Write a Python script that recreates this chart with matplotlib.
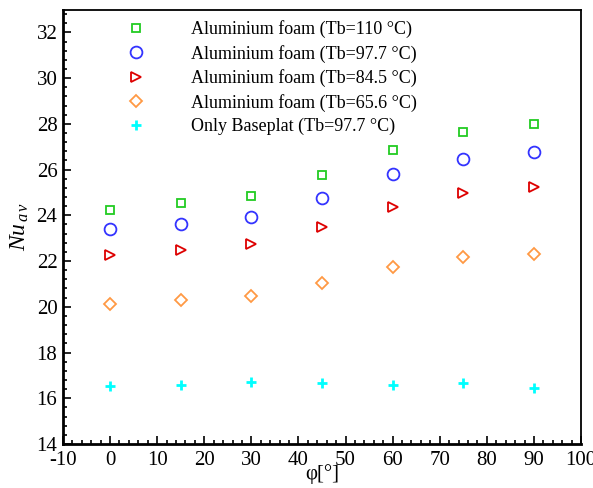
import matplotlib
matplotlib.use("Agg")
import matplotlib.pyplot as plt
from matplotlib.ticker import MultipleLocator

plt.rcParams['font.family'] = ['Liberation Serif', 'DejaVu Serif']
plt.rcParams['mathtext.fontset'] = 'custom'
plt.rcParams['mathtext.rm'] = 'Liberation Serif'
plt.rcParams['mathtext.it'] = 'Liberation Serif:italic'
plt.rcParams['axes.unicode_minus'] = False

# Inclination angle (degrees)
angle = [0, 15, 30, 45, 60, 75, 90]

# Average Nusselt number for each configuration
nu_foam_110 = [24.24, 24.53, 24.83, 25.76, 26.85, 27.65, 27.98]
nu_foam_977 = [23.38, 23.63, 23.91, 24.74, 25.79, 26.47, 26.76]
nu_foam_845 = [22.26, 22.50, 22.74, 23.47, 24.37, 24.98, 25.22]
nu_foam_656 = [20.11, 20.28, 20.46, 21.02, 21.73, 22.17, 22.32]
nu_baseplate = [16.53, 16.60, 16.70, 16.66, 16.57, 16.67, 16.45]

labels = [
    "Aluminium foam (Tb=110 °C)",
    "Aluminium foam (Tb=97.7 °C)",
    "Aluminium foam (Tb=84.5 °C)",
    "Aluminium foam (Tb=65.6 °C)",
    "Only Baseplat (Tb=97.7 °C)",
]

fig = plt.figure(figsize=(5.93, 4.88), dpi=100)
ax = fig.add_axes([0.1062, 0.0902, 0.8736, 0.8903])

ax.plot(angle, nu_foam_110, linestyle='none', marker='s', markersize=6,
        markerfacecolor='none', markeredgecolor='#22cc22', markeredgewidth=1.3,
        label=labels[0])
ax.plot(angle, nu_foam_977, linestyle='none', marker='o', markersize=8.5,
        markerfacecolor='none', markeredgecolor='#3333ff', markeredgewidth=1.3,
        label=labels[1])
ax.plot(angle, nu_foam_845, linestyle='none', marker='>', markersize=7,
        markerfacecolor='none', markeredgecolor='#dd0000', markeredgewidth=1.3,
        label=labels[2])
ax.plot(angle, nu_foam_656, linestyle='none', marker='D', markersize=6.5,
        markerfacecolor='none', markeredgecolor='#ff9944', markeredgewidth=1.3,
        label=labels[3])
ax.plot(angle, nu_baseplate, linestyle='none', marker='+', markersize=7,
        markeredgecolor='#00ffff', markeredgewidth=2.0,
        label=labels[4])

ax.set_xlim(-10, 100)
ax.set_ylim(14, 33)
ax.xaxis.set_major_locator(MultipleLocator(10))
ax.xaxis.set_minor_locator(MultipleLocator(2))
ax.yaxis.set_major_locator(MultipleLocator(2))
ax.yaxis.set_minor_locator(MultipleLocator(0.4))

ax.tick_params(which='both', direction='in', top=False, right=False,
               labelsize=15, width=1.2)
ax.tick_params(which='major', length=6)
ax.tick_params(which='minor', length=3)
ax.tick_params(axis='y', pad=4)
ax.tick_params(axis='x', pad=5)

for side in ['left', 'bottom']:
    ax.spines[side].set_linewidth(2.0)
for side in ['top', 'right']:
    ax.spines[side].set_linewidth(1.3)

ax.set_xlabel("φ[°]", fontsize=15, labelpad=-4)
ax.set_ylabel(r"$Nu_{\,a\,v}$", fontsize=17, labelpad=4)

ax.legend(loc='upper left', bbox_to_anchor=(0.1236, 0.975), frameon=False,
          fontsize=13, handlelength=1.0, handletextpad=2.55, labelspacing=0.36,
          borderpad=0, borderaxespad=0, numpoints=1)

fig.savefig("out.png", dpi=100)
